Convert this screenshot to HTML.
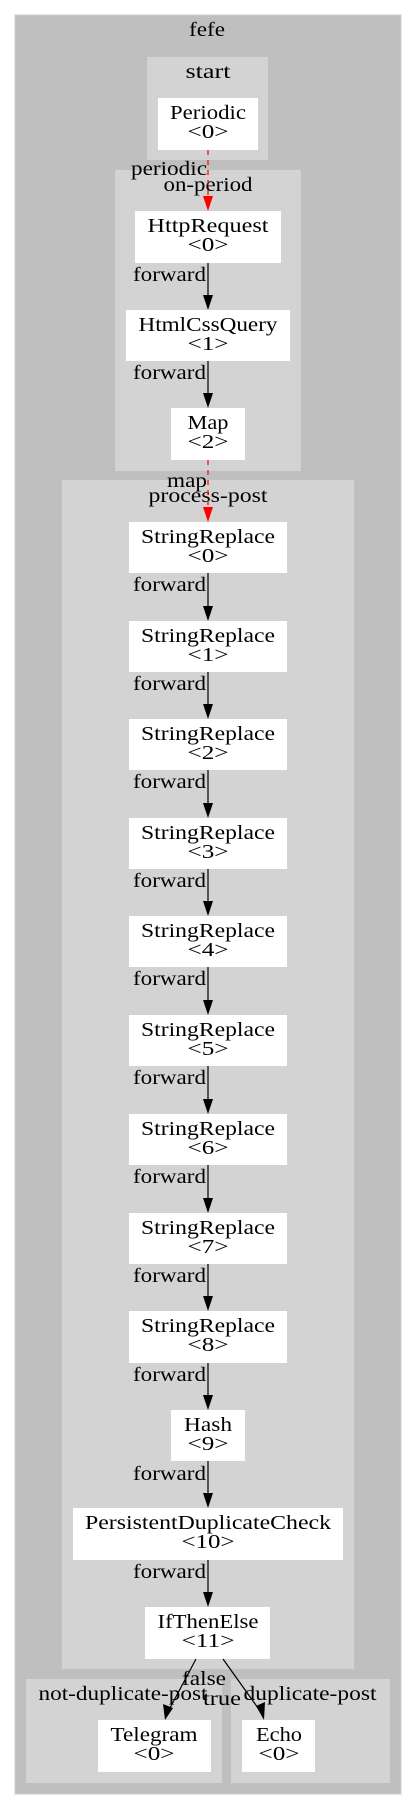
<!DOCTYPE html>
<html><head><meta charset="utf-8"><style>
html,body{margin:0;padding:0;background:#fff;width:416px;height:1809px;overflow:hidden}
svg{display:block}
text{font-family:"Liberation Serif",serif;font-size:20px;fill:#000}
</style></head><body>
<svg width="416" height="1809" viewBox="0 0 416 1809" xmlns="http://www.w3.org/2000/svg">
<defs>
<g id="ah"><polygon points="-5,-15 5,-15 0,0" fill="#000"/></g>
<g id="ahr"><polygon points="-5,-15 5,-15 0,0" fill="#f00"/></g>
</defs>
<rect x="15" y="15" width="386" height="1779" fill="#bfbfbf" stroke="#cccccc" stroke-width="1"/>
<text x="207" y="30" text-anchor="middle" dominant-baseline="central" textLength="36" lengthAdjust="spacingAndGlyphs">fefe</text>

<rect x="147" y="57" width="121" height="103" fill="#d3d3d3"/>
<text x="208" y="72" text-anchor="middle" dominant-baseline="central" textLength="45" lengthAdjust="spacingAndGlyphs">start</text>

<rect x="115" y="170" width="186" height="301" fill="#d3d3d3"/>
<text x="208" y="185" text-anchor="middle" dominant-baseline="central" textLength="89" lengthAdjust="spacingAndGlyphs">on-period</text>

<rect x="62" y="480" width="292" height="1189" fill="#d3d3d3"/>
<text x="208" y="496" text-anchor="middle" dominant-baseline="central" textLength="119" lengthAdjust="spacingAndGlyphs">process-post</text>

<rect x="26" y="1679" width="196" height="104" fill="#d3d3d3"/>
<rect x="231" y="1679" width="159" height="104" fill="#d3d3d3"/>
<text x="123" y="1694" text-anchor="middle" dominant-baseline="central" textLength="169" lengthAdjust="spacingAndGlyphs">not-duplicate-post</text>
<text x="310" y="1694" text-anchor="middle" dominant-baseline="central" textLength="133" lengthAdjust="spacingAndGlyphs">duplicate-post</text>

<!-- nodes -->
<g>
<rect x="158" y="98" width="100" height="52" fill="#fff"/>
<text x="208" y="113" text-anchor="middle" dominant-baseline="central" textLength="76" lengthAdjust="spacingAndGlyphs">Periodic</text>
<text x="208" y="132" text-anchor="middle" dominant-baseline="central" textLength="41" lengthAdjust="spacingAndGlyphs">&lt;0&gt;</text>

<rect x="135" y="211" width="146" height="52" fill="#fff"/>
<text x="208" y="226" text-anchor="middle" dominant-baseline="central" textLength="121" lengthAdjust="spacingAndGlyphs">HttpRequest</text>
<text x="208" y="245" text-anchor="middle" dominant-baseline="central" textLength="41" lengthAdjust="spacingAndGlyphs">&lt;0&gt;</text>

<rect x="126" y="310" width="164" height="51" fill="#fff"/>
<text x="208" y="325" text-anchor="middle" dominant-baseline="central" textLength="139" lengthAdjust="spacingAndGlyphs">HtmlCssQuery</text>
<text x="208" y="344" text-anchor="middle" dominant-baseline="central" textLength="41" lengthAdjust="spacingAndGlyphs">&lt;1&gt;</text>

<rect x="171" y="408" width="74" height="52" fill="#fff"/>
<text x="208" y="423" text-anchor="middle" dominant-baseline="central" textLength="41" lengthAdjust="spacingAndGlyphs">Map</text>
<text x="208" y="442" text-anchor="middle" dominant-baseline="central" textLength="41" lengthAdjust="spacingAndGlyphs">&lt;2&gt;</text>
</g>

<!-- StringReplace nodes -->
<g>
<rect x="129" y="522" width="158" height="51" fill="#fff"/><text x="208" y="537" text-anchor="middle" dominant-baseline="central" textLength="134" lengthAdjust="spacingAndGlyphs">StringReplace</text><text x="208" y="556" text-anchor="middle" dominant-baseline="central" textLength="41" lengthAdjust="spacingAndGlyphs">&lt;0&gt;</text>
<rect x="129" y="621" width="158" height="51" fill="#fff"/><text x="208" y="636" text-anchor="middle" dominant-baseline="central" textLength="134" lengthAdjust="spacingAndGlyphs">StringReplace</text><text x="208" y="655" text-anchor="middle" dominant-baseline="central" textLength="41" lengthAdjust="spacingAndGlyphs">&lt;1&gt;</text>
<rect x="129" y="719" width="158" height="51" fill="#fff"/><text x="208" y="734" text-anchor="middle" dominant-baseline="central" textLength="134" lengthAdjust="spacingAndGlyphs">StringReplace</text><text x="208" y="753" text-anchor="middle" dominant-baseline="central" textLength="41" lengthAdjust="spacingAndGlyphs">&lt;2&gt;</text>
<rect x="129" y="818" width="158" height="51" fill="#fff"/><text x="208" y="833" text-anchor="middle" dominant-baseline="central" textLength="134" lengthAdjust="spacingAndGlyphs">StringReplace</text><text x="208" y="852" text-anchor="middle" dominant-baseline="central" textLength="41" lengthAdjust="spacingAndGlyphs">&lt;3&gt;</text>
<rect x="129" y="916" width="158" height="51" fill="#fff"/><text x="208" y="931" text-anchor="middle" dominant-baseline="central" textLength="134" lengthAdjust="spacingAndGlyphs">StringReplace</text><text x="208" y="950" text-anchor="middle" dominant-baseline="central" textLength="41" lengthAdjust="spacingAndGlyphs">&lt;4&gt;</text>
<rect x="129" y="1015" width="158" height="51" fill="#fff"/><text x="208" y="1030" text-anchor="middle" dominant-baseline="central" textLength="134" lengthAdjust="spacingAndGlyphs">StringReplace</text><text x="208" y="1049" text-anchor="middle" dominant-baseline="central" textLength="41" lengthAdjust="spacingAndGlyphs">&lt;5&gt;</text>
<rect x="129" y="1114" width="158" height="51" fill="#fff"/><text x="208" y="1129" text-anchor="middle" dominant-baseline="central" textLength="134" lengthAdjust="spacingAndGlyphs">StringReplace</text><text x="208" y="1148" text-anchor="middle" dominant-baseline="central" textLength="41" lengthAdjust="spacingAndGlyphs">&lt;6&gt;</text>
<rect x="129" y="1213" width="158" height="51" fill="#fff"/><text x="208" y="1228" text-anchor="middle" dominant-baseline="central" textLength="134" lengthAdjust="spacingAndGlyphs">StringReplace</text><text x="208" y="1247" text-anchor="middle" dominant-baseline="central" textLength="41" lengthAdjust="spacingAndGlyphs">&lt;7&gt;</text>
<rect x="129" y="1311" width="158" height="52" fill="#fff"/><text x="208" y="1326" text-anchor="middle" dominant-baseline="central" textLength="134" lengthAdjust="spacingAndGlyphs">StringReplace</text><text x="208" y="1345" text-anchor="middle" dominant-baseline="central" textLength="41" lengthAdjust="spacingAndGlyphs">&lt;8&gt;</text>
<rect x="171" y="1410" width="74" height="51" fill="#fff"/><text x="208" y="1425" text-anchor="middle" dominant-baseline="central" textLength="48" lengthAdjust="spacingAndGlyphs">Hash</text><text x="208" y="1444" text-anchor="middle" dominant-baseline="central" textLength="41" lengthAdjust="spacingAndGlyphs">&lt;9&gt;</text>
<rect x="73" y="1508" width="270" height="52" fill="#fff"/><text x="208" y="1523" text-anchor="middle" dominant-baseline="central" textLength="246" lengthAdjust="spacingAndGlyphs">PersistentDuplicateCheck</text><text x="208" y="1542" text-anchor="middle" dominant-baseline="central" textLength="53" lengthAdjust="spacingAndGlyphs">&lt;10&gt;</text>
<rect x="145" y="1607" width="125" height="52" fill="#fff"/><text x="208" y="1622" text-anchor="middle" dominant-baseline="central" textLength="101" lengthAdjust="spacingAndGlyphs">IfThenElse</text><text x="208" y="1641" text-anchor="middle" dominant-baseline="central" textLength="53" lengthAdjust="spacingAndGlyphs">&lt;11&gt;</text>
<rect x="98" y="1720" width="113" height="52" fill="#fff"/><text x="154" y="1735" text-anchor="middle" dominant-baseline="central" textLength="87" lengthAdjust="spacingAndGlyphs">Telegram</text><text x="154" y="1754" text-anchor="middle" dominant-baseline="central" textLength="41" lengthAdjust="spacingAndGlyphs">&lt;0&gt;</text>
<rect x="242" y="1720" width="73" height="52" fill="#fff"/><text x="279" y="1735" text-anchor="middle" dominant-baseline="central" textLength="46" lengthAdjust="spacingAndGlyphs">Echo</text><text x="279" y="1754" text-anchor="middle" dominant-baseline="central" textLength="41" lengthAdjust="spacingAndGlyphs">&lt;0&gt;</text>
</g>

<!-- red dashed edges -->
<line x1="208" y1="150" x2="208" y2="196" stroke="#f00" stroke-width="1.2" stroke-dasharray="5,5"/>
<use href="#ahr" x="208" y="211"/>
<text x="207" y="169" text-anchor="end" dominant-baseline="central" textLength="76" lengthAdjust="spacingAndGlyphs">periodic</text>
<line x1="208" y1="460" x2="208" y2="507" stroke="#f00" stroke-width="1.2" stroke-dasharray="5,5"/>
<use href="#ahr" x="208" y="522"/>
<text x="207" y="481" text-anchor="end" dominant-baseline="central" textLength="40" lengthAdjust="spacingAndGlyphs">map</text>

<!-- forward edges -->
<g stroke="#000" stroke-width="1.2">
<line x1="208" y1="263" x2="208" y2="296"/>
<line x1="208" y1="361" x2="208" y2="393"/>
<line x1="208" y1="573" x2="208" y2="606"/>
<line x1="208" y1="672" x2="208" y2="704"/>
<line x1="208" y1="770" x2="208" y2="803"/>
<line x1="208" y1="869" x2="208" y2="901"/>
<line x1="208" y1="967" x2="208" y2="1000"/>
<line x1="208" y1="1066" x2="208" y2="1099"/>
<line x1="208" y1="1165" x2="208" y2="1198"/>
<line x1="208" y1="1264" x2="208" y2="1296"/>
<line x1="208" y1="1363" x2="208" y2="1395"/>
<line x1="208" y1="1461" x2="208" y2="1493"/>
<line x1="208" y1="1560" x2="208" y2="1592"/>
<line x1="196" y1="1659" x2="170" y2="1708"/>
<line x1="223" y1="1659" x2="258" y2="1708"/>
</g>
<use href="#ah" x="208" y="310"/>
<use href="#ah" x="208" y="408"/>
<use href="#ah" x="208" y="621"/>
<use href="#ah" x="208" y="719"/>
<use href="#ah" x="208" y="818"/>
<use href="#ah" x="208" y="916"/>
<use href="#ah" x="208" y="1015"/>
<use href="#ah" x="208" y="1114"/>
<use href="#ah" x="208" y="1213"/>
<use href="#ah" x="208" y="1311"/>
<use href="#ah" x="208" y="1410"/>
<use href="#ah" x="208" y="1508"/>
<use href="#ah" x="208" y="1607"/>
<polygon points="165,1720 163,1704 173,1708" fill="#000"/>
<polygon points="264,1720 256,1706 265,1702" fill="#000"/>

<g text-anchor="end" dominant-baseline="central">
<text x="206" y="275" textLength="73" lengthAdjust="spacingAndGlyphs">forward</text>
<text x="206" y="373" textLength="73" lengthAdjust="spacingAndGlyphs">forward</text>
<text x="206" y="585" textLength="73" lengthAdjust="spacingAndGlyphs">forward</text>
<text x="206" y="684" textLength="73" lengthAdjust="spacingAndGlyphs">forward</text>
<text x="206" y="782" textLength="73" lengthAdjust="spacingAndGlyphs">forward</text>
<text x="206" y="881" textLength="73" lengthAdjust="spacingAndGlyphs">forward</text>
<text x="206" y="979" textLength="73" lengthAdjust="spacingAndGlyphs">forward</text>
<text x="206" y="1078" textLength="73" lengthAdjust="spacingAndGlyphs">forward</text>
<text x="206" y="1177" textLength="73" lengthAdjust="spacingAndGlyphs">forward</text>
<text x="206" y="1276" textLength="73" lengthAdjust="spacingAndGlyphs">forward</text>
<text x="206" y="1375" textLength="73" lengthAdjust="spacingAndGlyphs">forward</text>
<text x="206" y="1474" textLength="73" lengthAdjust="spacingAndGlyphs">forward</text>
<text x="206" y="1572" textLength="73" lengthAdjust="spacingAndGlyphs">forward</text>
</g>
<text x="204" y="1679" text-anchor="middle" dominant-baseline="central" textLength="44" lengthAdjust="spacingAndGlyphs">false</text>
<text x="222" y="1699" text-anchor="middle" dominant-baseline="central" textLength="38" lengthAdjust="spacingAndGlyphs">true</text>
</svg>
</body></html>
